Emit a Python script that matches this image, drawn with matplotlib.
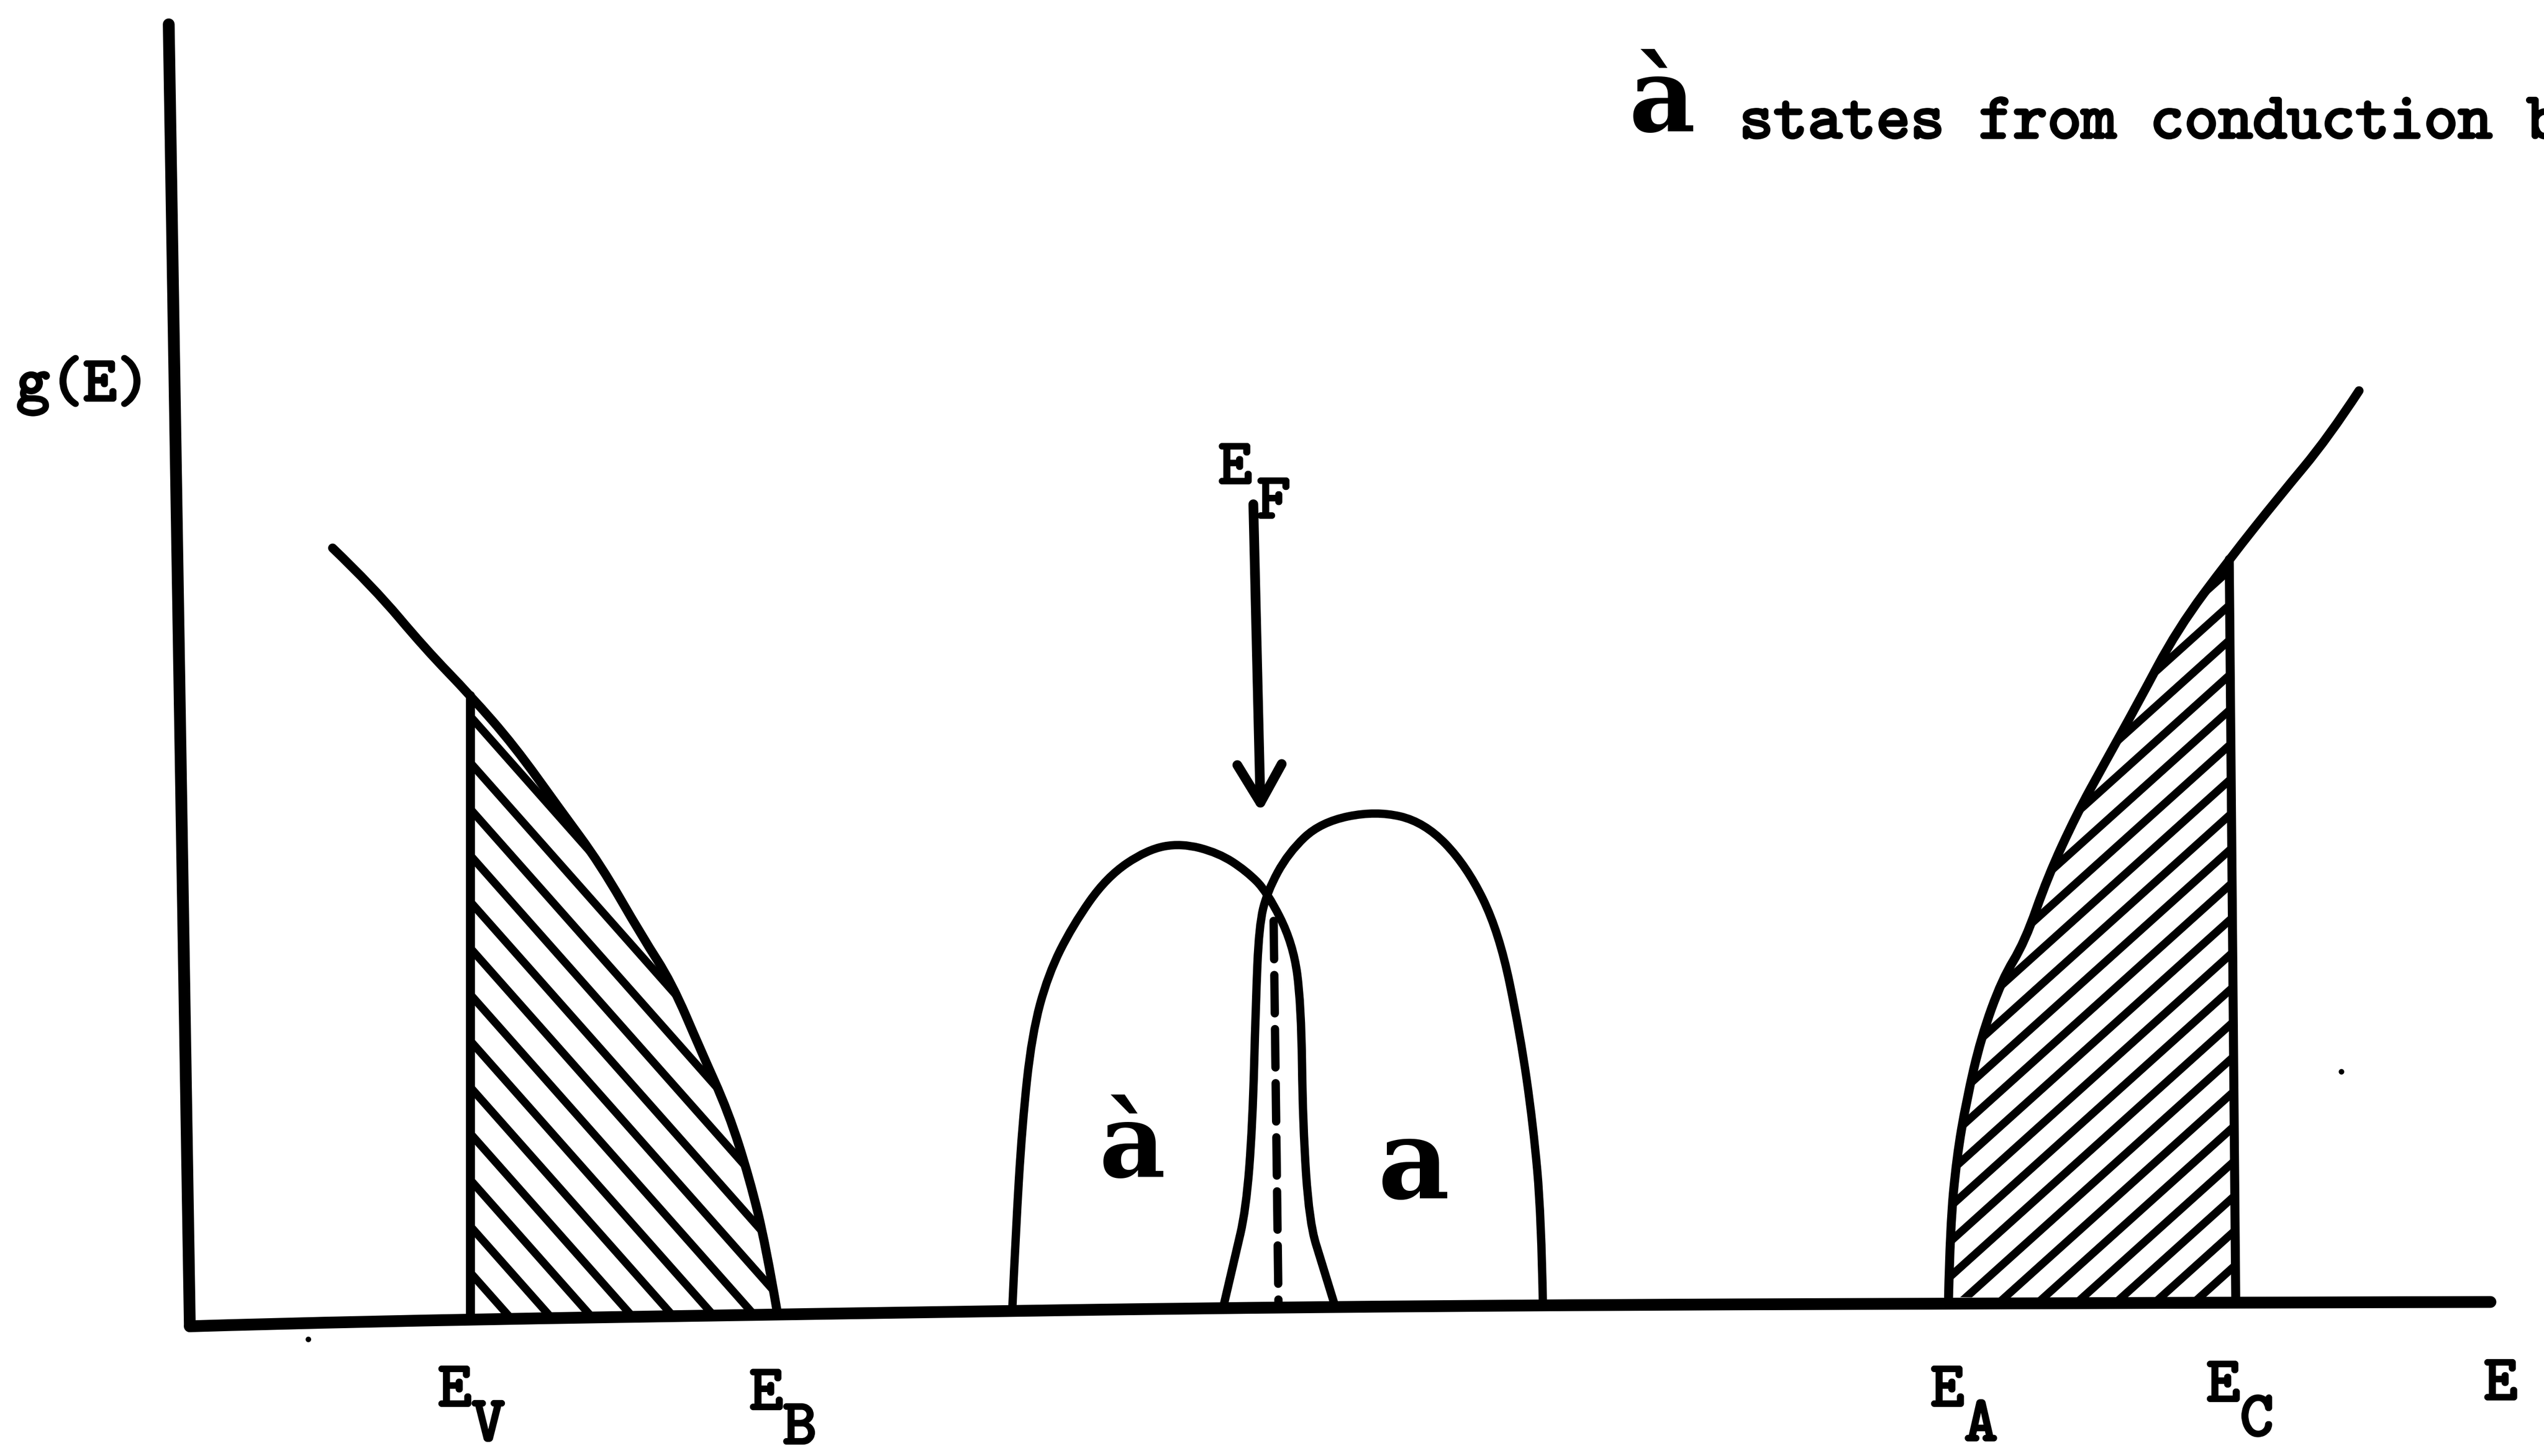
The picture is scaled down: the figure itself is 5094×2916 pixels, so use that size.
import matplotlib
matplotlib.use("Agg")
import matplotlib.pyplot as plt
import matplotlib.patheffects as pe
from matplotlib.patches import Polygon, PathPatch
from matplotlib.path import Path
from matplotlib.transforms import offset_copy
import numpy as np

# --- sketch data (E to the right, g(E) upwards, drawing units) ---
yaxis_E = [104, 117]
yaxis_g = [883, 80]
baseline_E = [117, 215, 522, 800, 1139, 1535]
baseline_g = [80, 83, 88, 92, 94, 95]

# valence band tail, ends at E_B
valence_E = [205, 230, 262, 290, 317, 345, 370, 396, 414, 432, 449, 462, 472, 479]
valence_g = [560, 536, 498, 469, 438, 399, 365, 320, 292, 250, 212, 171, 130, 89]
E_V = 290
E_V_bottom = 86

# conduction band tail, starts at E_A
conduction_E = [1201, 1202, 1206, 1212, 1221, 1234, 1248, 1262, 1280, 1297, 1317,
                1342, 1374, 1405, 1435, 1454]
conduction_g = [98, 141, 184, 219, 258, 294, 317, 357, 396, 427, 463,
                510, 553, 592, 628, 657]
E_C_top = (1374, 553)
E_C_bottom = (1378, 96)

# donor-like (à) and acceptor-like (a) defect bands
band_a_grave_E = [624, 626, 630, 636, 646, 661, 682, 707, 728, 751, 768, 781,
                  797, 802, 803, 807, 815, 823]
band_a_grave_g = [92, 137, 204, 260, 297, 327, 357, 374, 378, 372, 361, 348,
                  316, 279, 204, 144, 118, 92]
band_a_E = [754, 761, 768, 772, 774, 776, 781, 794, 814, 848, 878, 904, 924,
            937, 945, 950, 951]
band_a_g = [92, 122, 152, 204, 279, 327, 348, 372, 391, 398, 391, 364, 323,
            260, 204, 148, 92]

overlap_E = [785, 788]
overlap_g = [330, 93]

fermi_tail = (772.5, 587)
fermi_tip = (777, 397)

specks_E = [190, 1443]
specks_g = [72, 237]

LW_AXIS = 17
LW_CURVE = 13
LW_HUMP = 12
LW_HATCH = 11.5

fig = plt.figure(figsize=(50.94, 29.16), dpi=100)
ax = fig.add_axes([0, 0, 1, 1])
ax.set_xlim(0, 1568)
ax.set_ylim(0, 898)
ax.axis("off")

ink = "black"


def pen(E, g, lw):
    """Draw a hand-sketched curve through the points as a smooth quadratic path."""
    pts = list(zip(E, g))
    verts = [pts[0]]
    codes = [Path.MOVETO]
    for i in range(1, len(pts) - 1):
        mid = ((pts[i][0] + pts[i + 1][0]) / 2, (pts[i][1] + pts[i + 1][1]) / 2)
        if i == len(pts) - 2:
            mid = pts[-1]
        verts += [pts[i], mid]
        codes += [Path.CURVE3, Path.CURVE3]
    if len(pts) == 2:
        verts.append(pts[1])
        codes.append(Path.LINETO)
    ax.add_patch(PathPatch(Path(verts, codes), facecolor="none", edgecolor=ink,
                           lw=lw, capstyle="round", joinstyle="round"))


pen(yaxis_E, yaxis_g, LW_AXIS)
pen(baseline_E, baseline_g, LW_AXIS)

# band tails with the occupied parts hatched
pen(valence_E, valence_g, LW_CURVE)
pen([E_V, E_V], [E_V_bottom, valence_g[valence_E.index(E_V)]], LW_CURVE)
pen(conduction_E, conduction_g, LW_CURVE)
pen([E_C_bottom[0], E_C_top[0]], [E_C_bottom[1], E_C_top[1]], LW_CURVE)

i0 = valence_E.index(E_V)
left_poly = Polygon(list(zip(valence_E[i0:], valence_g[i0:])) + [(E_V, E_V_bottom)],
                    closed=True, fill=False, edgecolor="none")
ax.add_patch(left_poly)
i1 = conduction_E.index(E_C_top[0])
right_poly = Polygon(list(zip(conduction_E[:i1 + 1], conduction_g[:i1 + 1])) + [E_C_bottom],
                     closed=True, fill=False, edgecolor="none")
ax.add_patch(right_poly)

# hatching: left band "\\\", right band "///"
xs = np.array([250.0, 520.0])
for k in range(-2, 16):
    xk = 313 + 25.3 * k
    ln, = ax.plot(xs, 87 + 1.13 * (xk - xs), color=ink, lw=LW_HATCH, solid_capstyle="butt")
    ln.set_clip_path(left_poly)
xs = np.array([1180.0, 1400.0])
for k in range(-17, 9):
    xk = 1208.6 + 24 * k
    ln, = ax.plot(xs, 95 + 0.9 * (xs - xk), color=ink, lw=LW_HATCH, solid_capstyle="butt")
    ln.set_clip_path(right_poly)

pen(band_a_grave_E, band_a_grave_g, LW_HUMP)
pen(band_a_E, band_a_g, LW_HUMP)
ax.plot(overlap_E, overlap_g, color=ink, lw=12, linestyle=(0, (4.6, 1.9)),
        dash_capstyle="round")

ax.annotate("", xy=fermi_tip, xytext=fermi_tail,
            arrowprops=dict(arrowstyle="->,head_length=0.55,head_width=0.32",
                            lw=14, color=ink, mutation_scale=100,
                            shrinkA=0, shrinkB=0))

ax.plot(specks_E, specks_g, "o", color=ink, ms=7)

# typewriter lettering
TT = dict(family="cmtt10", color=ink, ha="left", va="baseline",
          path_effects=[pe.withStroke(linewidth=3.5, foreground=ink)])
FS = 92
ADV = 0.525 * FS  # monospace advance in points


def level(x, g, sub, shift=1.0):
    ax.text(x, g, "E", fontsize=FS, **TT)
    if sub:
        tr = offset_copy(ax.transData, fig=fig, x=ADV * shift, y=-0.54 * FS, units="points")
        ax.text(x, g, sub, fontsize=FS, transform=tr, **TT)


ax.text(10, 651, "g(E)", fontsize=FS, **TT)
level(270, 31, "V")
level(462, 29, "B")
level(751, 600, "F", 1.15)
level(1190, 31, "A")
level(1360, 34, "C")
level(1531, 35, "")

words = ["states", "from", "conduction", "band"]
col = 0
for w in words:
    tr = offset_copy(ax.transData, fig=fig, x=col * 0.525 * 94, units="points")
    ax.text(1072, 813, w, fontsize=94, transform=tr, **TT)
    col += len(w) + 1

BIG = dict(family="DejaVu Serif", weight="bold", color=ink, ha="center", va="baseline")
ax.text(1024.5, 817, "\u00e0", fontsize=148, **BIG)
ax.text(698, 172, "\u00e0", fontsize=148, **BIG)
ax.text(871.5, 159, "a", fontsize=160, **BIG)

fig.savefig("out.png", dpi=100)
